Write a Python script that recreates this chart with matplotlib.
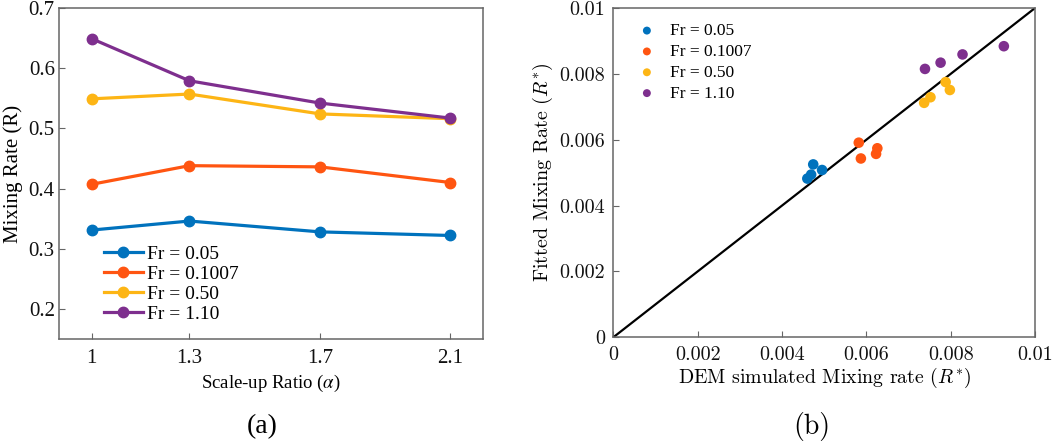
import matplotlib
matplotlib.use("Agg")
import matplotlib.pyplot as plt
import numpy as np

# ---------------- data ----------------
alpha = [1.0, 1.3, 1.7, 2.1]
alpha_labels = ["1", "1.3", "1.7", "2.1"]
series_names = ["Fr = 0.05", "Fr = 0.1007", "Fr = 0.50", "Fr = 1.10"]
R_fr005 = [0.331, 0.346, 0.328, 0.322]
R_fr01007 = [0.407, 0.438, 0.436, 0.410]
R_fr050 = [0.549, 0.557, 0.524, 0.516]
R_fr110 = [0.649, 0.579, 0.542, 0.517]

dem_fr005 = [0.00460, 0.00469, 0.00474, 0.00495]
fit_fr005 = [0.00482, 0.00494, 0.00525, 0.00508]
dem_fr01007 = [0.00582, 0.00587, 0.00623, 0.00626]
fit_fr01007 = [0.00591, 0.00543, 0.00557, 0.00574]
dem_fr050 = [0.00737, 0.00752, 0.00788, 0.00798]
fit_fr050 = [0.00712, 0.00729, 0.00775, 0.00751]
dem_fr110 = [0.00739, 0.00776, 0.00828, 0.00926]
fit_fr110 = [0.00815, 0.00834, 0.00859, 0.00884]

diag = [0.0, 0.01]

colors = ["#0072BD", "#FF5511", "#FDB515", "#7E2F8E"]

# ---------------- figure ----------------
fig = plt.figure(figsize=(10.52, 4.42), dpi=100)
frame_col = "#666666"

# ---- panel (a) ----
serif = "Liberation Serif"
ax1 = fig.add_axes([0.0561, 0.233, 0.403, 0.749])
for vals, c, name in zip([R_fr005, R_fr01007, R_fr050, R_fr110], colors, series_names):
    ax1.plot(alpha, vals, '-o', color=c, lw=2.3, ms=7.5, label=name)
ax1.set_xlim(0.9, 2.2)
ax1.set_ylim(0.15, 0.7)
ax1.set_xticks(alpha)
ax1.set_xticklabels(alpha_labels)
ax1.set_yticks([0.2, 0.3, 0.4, 0.5, 0.6, 0.7])
ax1.set_yticklabels(["0.2", "0.3", "0.4", "0.5", "0.6", "0.7"])
ax1.tick_params(direction='in', length=4, width=0.8, color=frame_col,
                labelsize=15, labelcolor='#111111')
ax1.tick_params(axis='x', pad=7)
ax1.tick_params(axis='y', pad=3)
for lab in ax1.get_xticklabels() + ax1.get_yticklabels():
    lab.set_family(serif)
for sp in ax1.spines.values():
    sp.set_color(frame_col)
    sp.set_linewidth(1.1)
ax1.set_xlabel(r"Scale-up Ratio ($\alpha$)", family=serif, fontsize=13.5,
               math_fontfamily='stix', labelpad=4)
ax1.set_ylabel("Mixing Rate (R)", family=serif, fontsize=15)
ax1.yaxis.set_label_coords(-0.086, 0.5)
leg1 = ax1.legend(loc='center left', bbox_to_anchor=(0.106, 0.166), frameon=False,
                  prop={'family': serif, 'size': 14}, handlelength=2.0,
                  handletextpad=0.19, labelspacing=0.13, borderaxespad=0,
                  borderpad=0)
fig.text(0.249, 0.035, "(a)", family=serif, fontsize=20, ha='center', va='center')

# ---- panel (b) ----
cm = "cmr10"
ax2 = fig.add_axes([0.583, 0.2369, 0.4009, 0.745])
ax2.plot(diag, diag, color='black', lw=1.6)
for xs, ys, c, name in zip([dem_fr005, dem_fr01007, dem_fr050, dem_fr110],
                           [fit_fr005, fit_fr01007, fit_fr050, fit_fr110],
                           colors, series_names):
    ax2.scatter(xs, ys, s=58, color=c, edgecolors='none', label=name, zorder=3)
ax2.set_xlim(0, 0.01)
ax2.set_ylim(0, 0.01)
ticks_b = [0, 0.002, 0.004, 0.006, 0.008, 0.01]
tick_lab_b = ["0", "0.002", "0.004", "0.006", "0.008", "0.01"]
ax2.set_xticks(ticks_b)
ax2.set_xticklabels(tick_lab_b)
ax2.set_yticks(ticks_b)
ax2.set_yticklabels(tick_lab_b)
ax2.tick_params(direction='in', length=4, width=0.8, color=frame_col,
                labelsize=14.5, pad=6, labelcolor='#111111')
for lab in ax2.get_xticklabels() + ax2.get_yticklabels():
    lab.set_family(cm)
for sp in ax2.spines.values():
    sp.set_color(frame_col)
    sp.set_linewidth(1.1)
ax2.set_xlabel(r"DEM simulated Mixing rate ($R^{*}$)", family=cm, fontsize=14.3,
               math_fontfamily='cm', labelpad=2)
ax2.set_ylabel(r"Fitted Mixing Rate ($R^{*}$)", family=cm, fontsize=14.5,
               math_fontfamily='cm')
ax2.yaxis.set_label_coords(-0.138, 0.5)
leg2 = ax2.legend(loc='center left', bbox_to_anchor=(0.059, 0.835), frameon=False,
                  prop={'family': serif, 'size': 12.5}, handlelength=1.0,
                  handletextpad=0.82, labelspacing=0.27, borderaxespad=0,
                  borderpad=0, scatterpoints=1, markerscale=0.75)
fig.text(0.7715, 0.035, "(b)", family=cm, fontsize=20, ha='center', va='center')

fig.savefig("out.png", dpi=100)
